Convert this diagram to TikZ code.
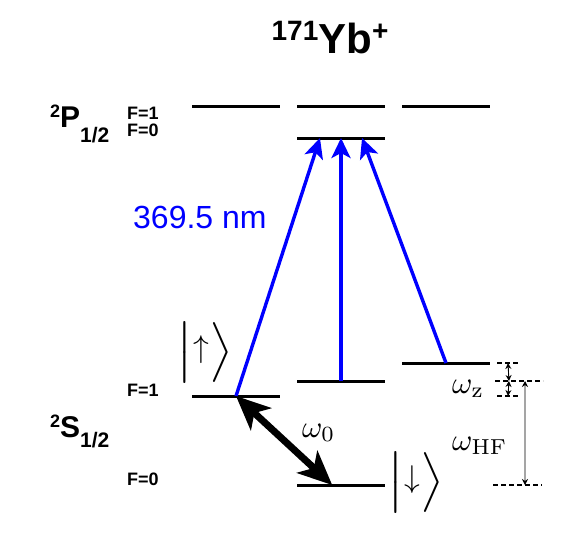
\RequirePackage{fix-cm}
\documentclass[tikz,border=0pt]{standalone}
\usepackage[no-math]{fontspec}
\usepackage{graphicx}
\setmainfont{Liberation Sans}
\usetikzlibrary{arrows.meta}

\newcommand{\termlabel}[3]{\raisebox{10pt}{\fontsize{18}{18}\selectfont #1}#2\raisebox{#3}{\fontsize{21}{21}\selectfont 1/2}}
\newcommand{\ketlabel}[1]{\scalebox{5}{$\left|\vphantom{\rule[-3.5pt]{0pt}{12pt}}\raisebox{1.4pt}{\scalebox{0.63}{$#1$}}\right\rangle$}}
\newcommand{\freqlabel}[1]{\scalebox{3.1}{$#1$}}

\begin{document}
\begin{tikzpicture}[x=1pt, y=-1pt,
    level/.style={line width=3pt},
    laser/.style={blue, line width=3.4pt, -{Stealth[length=20pt, width=19pt, inset=5pt]}},
    microwave/.style={line width=7pt, {Stealth[length=34pt, width=30pt, inset=9pt]}-{Stealth[length=34pt, width=30pt, inset=9pt]}},
    guide/.style={line width=1.1pt, dash pattern=on 5pt off 3pt},
    split/.style={line width=0.9pt, {Stealth[length=6pt, width=6pt]}-{Stealth[length=6pt, width=6pt]}},
    flabel/.style={anchor=base west, inner sep=0pt, font=\bfseries\fontsize{18}{18}\selectfont},
    term/.style={anchor=base west, inner sep=0pt, font=\bfseries\fontsize{30}{30}\selectfont},
    ket/.style={inner sep=0pt, font=\fontsize{10}{12}\selectfont},
    freq/.style={anchor=base west, inner sep=0pt, font=\fontsize{10}{12}\selectfont},
  ]
  \useasboundingbox (0,0) rectangle (581,533);

  % title and terms
  \node[anchor=base, inner sep=0pt, font=\bfseries\fontsize{42}{42}\selectfont] (title) at (330,53)
    {\raisebox{13pt}{\fontsize{28}{28}\selectfont 171}Yb\raisebox{13pt}{\fontsize{28}{28}\selectfont +}};
  \node[term] (pterm) at (50,127) {\termlabel{2}{P}{-15pt}};
  \node[term] (sterm) at (50,437) {\termlabel{2}{S}{-10pt}};
  \node[flabel] (pf1) at (127,119) {F=1};
  \node[flabel] (pf0) at (127,136) {F=0};
  \node[flabel] (sf1) at (127,396) {F=1};
  \node[flabel] (sf0) at (127,485) {F=0};

  % levels
  \draw[level] (192,106) -- (280,106);
  \draw[level] (297,106) -- (385,106);
  \draw[level] (402,106) -- (490,106);
  \draw[level] (297,138) -- coordinate[pos=0.261] (pa) coordinate (pb) coordinate[pos=0.739] (pc) (385,138);
  \draw[level] (192,396) -- coordinate (up) (280,396);
  \draw[level] (297,381) -- coordinate (zero) (385,381);
  \draw[level] (402,363) -- coordinate (plus) (490,363);
  \draw[level] (297,485) -- coordinate[pos=0.4] (down) (385,485);

  % transitions
  \draw[laser] (up) -- (pa);
  \draw[laser] (zero) -- (pb);
  \draw[laser] (plus) -- (pc);
  \draw[microwave] (up) -- (down);

  \node[anchor=base west, inner sep=0pt, blue, font=\fontsize{32}{32}\selectfont] (wave) at (133,228) {369.5 nm};
  \node[ket] (upket) at (205,352) {\ketlabel{\uparrow}};
  \node[ket] (downket) at (416,482) {\ketlabel{\downarrow}};
  \node[freq] (w0) at (302,437) {\freqlabel{\omega_0}};
  \node[freq] (wz) at (452,393) {\freqlabel{\omega_{\mathrm{z}}}};
  \node[freq] (whf) at (452,450) {\freqlabel{\omega_{\mathrm{HF}}}};

  % splittings
  \draw[guide] (497,363) -- coordinate[pos=0.48] (ga) (520,363);
  \draw[guide] (495,381) -- coordinate[pos=0.29] (gb) coordinate[pos=0.625] (gd) (543,381);
  \draw[guide] (497,396) -- coordinate[pos=0.48] (gc) (520,396);
  \draw[guide] (493,485) -- coordinate[pos=0.653] (ge) (542,485);
  \draw[split] (ga) -- (gb);
  \draw[split] (gb) -- (gc);
  \draw[split] (gd) -- (ge);
\end{tikzpicture}
\end{document}
